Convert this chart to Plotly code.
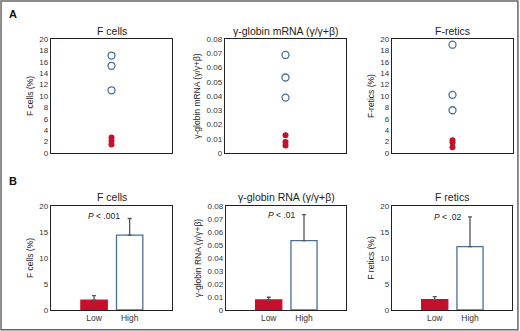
import plotly.graph_objects as go

# ---- data ----
groups = ["Low", "High"]

fcells_low = [2.7, 2.1, 1.5]
fcells_high = [17.1, 15.3, 11.0]
globin_low = [0.0125, 0.0078, 0.0053]
globin_high = [0.0688, 0.0530, 0.0389]
fretics_low = [2.25, 1.85, 1.0]
fretics_high = [19.0, 10.2, 7.5]

fcells_mean = [1.9, 14.4]
fcells_err = [0.85, 3.2]
globin_mean = [0.0077, 0.0534]
globin_err = [0.0021, 0.0199]
fretics_mean = [2.0, 12.2]
fretics_err = [0.57, 5.7]

a_titles = ["F cells", "γ-globin mRNA (γ/γ+β)", "F-retics"]
a_ylabels = ["F cells (%)", "γ-globin mRNA (γ/γ+β)", "F-retics (%)"]
b_titles = ["F cells", "γ-globin RNA (γ/γ+β)", "F retics"]
b_ylabels = ["F cells (%)", "γ-globin RNA (γ/γ+β)", "F retics (%)"]
p_texts = ["<i>P</i> < .001", "<i>P</i> < .01", "<i>P</i> < .02"]

RED = "#C4102C"
BLUE = "#4A6F98"
GREY = "#555555"
W, H = 520, 331
FONT = "Liberation Sans"

fig = go.Figure()

a_x = [(51, 172), (225, 346), (392, 513)]
b_x = [(51, 172), (226, 346), (392, 512)]
a_y = (39, 153)
b_y = (206, 310)

def px_x(v):
    return v / W

def px_y(v):
    return 1 - v / H

a_low = [fcells_low, globin_low, fretics_low]
a_high = [fcells_high, globin_high, fretics_high]
a_ranges = [[0, 20], [0, 0.08], [0, 20]]
a_dticks = [2, 0.01, 2]

b_means = [fcells_mean, globin_mean, fretics_mean]
b_errs = [fcells_err, globin_err, fretics_err]
b_ranges = [[0, 20], [0, 0.08], [0, 20]]
b_dticks = [5, 0.01, 5]

def ann(x, y, text, size, color="#222"):
    return dict(x=px_x(x), y=px_y(y), xref="paper", yref="paper", text=text,
                showarrow=False, xanchor="center", yanchor="middle",
                font=dict(size=size, color=color, family=FONT))

layout = {}
annotations = []
for i in range(3):
    n = i + 1
    xa = f"xaxis{n if n > 1 else ''}"
    ya = f"yaxis{n if n > 1 else ''}"
    xr = f"x{n if n > 1 else ''}"
    yr = f"y{n if n > 1 else ''}"
    fig.add_trace(go.Scatter(x=[0] * len(a_low[i]), y=a_low[i], mode="markers",
                             marker=dict(color=RED, size=6, line=dict(width=0)),
                             xaxis=xr, yaxis=yr, showlegend=False))
    fig.add_trace(go.Scatter(x=[0] * len(a_high[i]), y=a_high[i], mode="markers",
                             marker=dict(color="white", size=7, line=dict(color=BLUE, width=1.3)),
                             xaxis=xr, yaxis=yr, showlegend=False))
    layout[xa] = dict(domain=[px_x(a_x[i][0]), px_x(a_x[i][1])], range=[-1, 1],
                      showticklabels=False, showgrid=False, zeroline=False,
                      showline=True, mirror=True, linecolor="#222", linewidth=1.2,
                      anchor=yr, automargin=False)
    layout[ya] = dict(domain=[px_y(a_y[1]), px_y(a_y[0])], range=a_ranges[i],
                      dtick=a_dticks[i], showgrid=False, zeroline=False,
                      showline=True, mirror=True, linecolor="#222", linewidth=1.2,
                      ticks="", tickfont=dict(size=8, color="#333", family=FONT),
                      title=dict(text=a_ylabels[i], font=dict(size=8.5, color="#222", family=FONT), standoff=4),
                      anchor=xr, automargin=False)
    annotations.append(ann((a_x[i][0] + a_x[i][1]) / 2, 31, a_titles[i], 10.5))

for i in range(3):
    n = i + 4
    xa = f"xaxis{n}"
    ya = f"yaxis{n}"
    xr = f"x{n}"
    yr = f"y{n}"
    fig.add_trace(go.Bar(x=[0, 1], y=b_means[i], width=0.74,
                         marker=dict(color=[RED, "white"], line=dict(color=[RED, BLUE], width=1.3)),
                         error_y=dict(type="data", array=b_errs[i], arrayminus=[0, 0], symmetric=False,
                                      color=GREY, thickness=1.3, width=2),
                         xaxis=xr, yaxis=yr, showlegend=False))
    layout[xa] = dict(domain=[px_x(b_x[i][0]), px_x(b_x[i][1])], range=[-1.21, 2.19],
                      tickvals=[0, 1], ticktext=groups, ticks="",
                      tickfont=dict(size=8.5, color="#333", family=FONT),
                      showgrid=False, zeroline=False,
                      showline=True, mirror=True, linecolor="#222", linewidth=1.2,
                      anchor=yr, automargin=False)
    layout[ya] = dict(domain=[px_y(b_y[1]), px_y(b_y[0])], range=b_ranges[i],
                      dtick=b_dticks[i], showgrid=False, zeroline=False,
                      showline=True, mirror=True, linecolor="#222", linewidth=1.2,
                      ticks="", tickfont=dict(size=8, color="#333", family=FONT),
                      title=dict(text=b_ylabels[i], font=dict(size=8.5, color="#222", family=FONT), standoff=4),
                      anchor=xr, automargin=False)
    annotations.append(ann((b_x[i][0] + b_x[i][1]) / 2, 197, b_titles[i], 10.5))

p_pos = [(104, 216), (281, 215), (447, 217)]
for (px, py), t in zip(p_pos, p_texts):
    annotations.append(ann(px, py, t, 8.5))

annotations.append(ann(12.5, 14, "<b>A</b>", 11, "#111"))
annotations.append(ann(12.5, 181, "<b>B</b>", 11, "#111"))

fig.update_layout(**layout)
fig.update_layout(
    width=W, height=H, margin=dict(l=0, r=0, t=0, b=0, autoexpand=False),
    paper_bgcolor="white", plot_bgcolor="white",
    annotations=annotations,
    shapes=[dict(type="rect", xref="paper", yref="paper", x0=0.002, y0=0.004, x1=0.996, y1=0.997,
                 line=dict(color="#666", width=1.5))],
    bargap=0,
    hovermode=False,
)

fig.write_html("out.html", config={"staticPlot": True, "displayModeBar": False},
               post_script="document.body.style.margin='0px';")
